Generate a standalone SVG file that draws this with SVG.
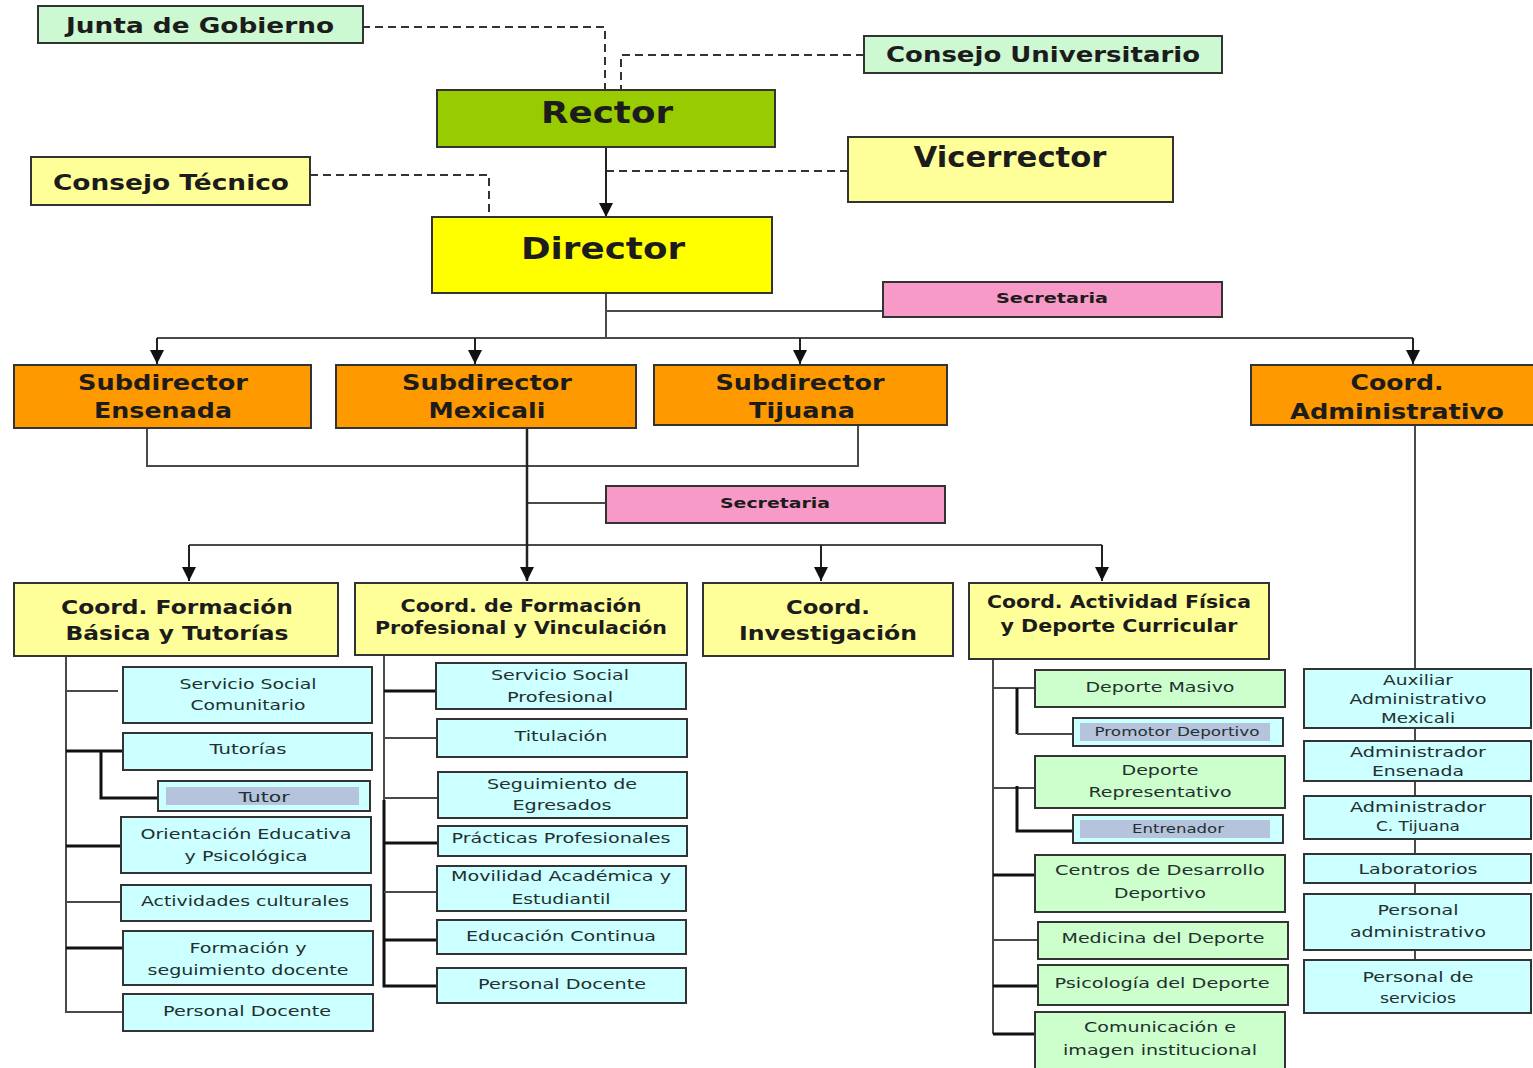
<svg xmlns="http://www.w3.org/2000/svg" width="1533" height="1068" viewBox="0 0 1533 1068">
<style>
text{font-family:"DejaVu Sans","Verdana",sans-serif;text-anchor:middle;fill:#1c1c1c}
.b{font-weight:bold}
.h1{font-size:31px}
.h2{font-size:22px}
.h3{font-size:20px}
.h4{font-size:17px}
.sec{font-size:14px;font-weight:bold}
.s{font-size:14.5px;fill:#23302f}
.xs{font-size:13px;fill:#23302f}
rect{stroke:#333;stroke-width:2}
.bg{fill:#fff;stroke:none}
.mint{fill:#ccf8d2}
.green{fill:#99cc00}
.lyel{fill:#ffff99}
.yel{fill:#ffff00}
.pink{fill:#f79ac8}
.org{fill:#ff9900}
.cyan{fill:#ccffff}
.grn{fill:#ccffcc}
.inner{fill:#b6c3dc;stroke:none}
.ln{fill:none;stroke:#4a4a4a;stroke-width:2}
.lk{fill:none;stroke:#111;stroke-width:3}
.dash{fill:none;stroke:#333;stroke-width:2;stroke-dasharray:8 5}
.ar{fill:none;stroke:#222;stroke-width:2;marker-end:url(#arr)}
</style>
<defs>
<marker id="arr" markerUnits="userSpaceOnUse" markerWidth="14" markerHeight="14" viewBox="0 0 14 14" refX="14" refY="7" orient="auto">
<path d="M0,0 L14,7 L0,14 z" fill="#111"/>
</marker>
</defs>
<rect class="bg" x="0" y="0" width="1533" height="1068"/>

<g id="connectors">
<path class="dash" d="M362,27 H605 V90"/>
<path class="dash" d="M864,55 H621 V90"/>
<path class="dash" d="M848,171 H607"/>
<path class="dash" d="M310,175 H489 V217"/>
<path class="ar" d="M606,147 V217"/>
<path class="ln" d="M606,293 V338"/>
<path class="ln" d="M606,311 H883"/>
<path class="ln" d="M157,338 H1413"/>
<path class="ar" d="M157,338 V364"/>
<path class="ar" d="M475,338 V364"/>
<path class="ar" d="M800,338 V364"/>
<path class="ar" d="M1413,338 V364"/>
<path class="ln" d="M147,428 V466 H858 V425"/>
<path class="ln" d="M527,503 H606"/>
<path class="ln" d="M189,545 H1102"/>
<path class="ar" d="M527,428 V581" style="stroke-width:2.5"/>
<path class="ar" d="M189,545 V581"/>
<path class="ar" d="M821,545 V581"/>
<path class="ar" d="M1102,545 V581"/>
<path class="ln" d="M1415,425 V1000"/>
<!-- left column -->
<path class="ln" d="M66,656 V1012 H123"/>
<path class="ln" d="M66,691 H118"/>
<path class="lk" d="M66,751 H123"/>
<path class="lk" d="M101,751 V798 H158"/>
<path class="lk" d="M66,846 H121"/>
<path class="ln" d="M66,902 H121"/>
<path class="lk" d="M66,948 H123"/>
<!-- middle column -->
<path class="ln" d="M384,655 V800"/>
<path class="lk" d="M384,800 V986 H437"/>
<path class="lk" d="M384,691 H436"/>
<path class="ln" d="M384,738 H437"/>
<path class="ln" d="M384,798 H438"/>
<path class="lk" d="M384,843 H438"/>
<path class="ln" d="M384,892 H437"/>
<path class="lk" d="M384,940 H437"/>
<!-- right column -->
<path class="ln" d="M993,659 V1034"/>
<path class="lk" d="M993,1034 H1035"/>
<path class="ln" d="M993,688 H1035"/>
<path class="lk" d="M1017,688 V734"/>
<path class="ln" d="M1017,734 H1073"/>
<path class="ln" d="M993,788 H1035"/>
<path class="lk" d="M1017,786 V831 H1073"/>
<path class="lk" d="M993,875 H1035"/>
<path class="ln" d="M993,940 H1038"/>
<path class="lk" d="M993,986 H1038"/>
</g>

<g id="junta"><rect class="mint" x="38" y="6" width="325" height="37"/><text class="b h2" x="200" y="33" textLength="268" lengthAdjust="spacingAndGlyphs">Junta de Gobierno</text></g>
<g id="consejo-universitario"><rect class="mint" x="864" y="36" width="358" height="37"/><text class="b h2" x="1043" y="62" textLength="314" lengthAdjust="spacingAndGlyphs">Consejo Universitario</text></g>
<g id="rector"><rect class="green" x="437" y="90" width="338" height="57"/><text class="b h1" x="607" y="123" textLength="132" lengthAdjust="spacingAndGlyphs">Rector</text></g>
<g id="vicerrector"><rect class="lyel" x="848" y="137" width="325" height="65"/><text class="b" style="font-size:29px" x="1010" y="167" textLength="193" lengthAdjust="spacingAndGlyphs">Vicerrector</text></g>
<g id="consejo-tecnico"><rect class="lyel" x="31" y="157" width="279" height="48"/><text class="b h2" x="171" y="190" textLength="236" lengthAdjust="spacingAndGlyphs">Consejo Técnico</text></g>
<g id="director"><rect class="yel" x="432" y="217" width="340" height="76"/><text class="b h1" x="603" y="259" textLength="164" lengthAdjust="spacingAndGlyphs">Director</text></g>
<g id="secretaria-1"><rect class="pink" x="883" y="282" width="339" height="35"/><text class="sec" x="1052" y="303" textLength="112" lengthAdjust="spacingAndGlyphs">Secretaria</text></g>

<g id="sub-ensenada"><rect class="org" x="14" y="365" width="297" height="63"/><text class="b h2" x="163" y="390" textLength="170" lengthAdjust="spacingAndGlyphs">Subdirector</text><text class="b h2" x="163" y="418" textLength="138" lengthAdjust="spacingAndGlyphs">Ensenada</text></g>
<g id="sub-mexicali"><rect class="org" x="336" y="365" width="300" height="63"/><text class="b h2" x="487" y="390" textLength="170" lengthAdjust="spacingAndGlyphs">Subdirector</text><text class="b h2" x="487" y="418" textLength="117" lengthAdjust="spacingAndGlyphs">Mexicali</text></g>
<g id="sub-tijuana"><rect class="org" x="654" y="365" width="293" height="60"/><text class="b h2" x="800" y="390" textLength="169" lengthAdjust="spacingAndGlyphs">Subdirector</text><text class="b h2" x="802" y="418" textLength="106" lengthAdjust="spacingAndGlyphs">Tijuana</text></g>
<g id="coord-adm"><rect class="org" x="1251" y="365" width="290" height="60"/><text class="b h2" x="1397" y="390" textLength="93" lengthAdjust="spacingAndGlyphs">Coord.</text><text class="b h2" x="1397" y="419" textLength="214" lengthAdjust="spacingAndGlyphs">Administrativo</text></g>
<g id="secretaria-2"><rect class="pink" x="606" y="486" width="339" height="37"/><text class="sec" x="775" y="508" textLength="110" lengthAdjust="spacingAndGlyphs">Secretaria</text></g>

<g id="coord-basica"><rect class="lyel" x="14" y="583" width="324" height="73"/><text class="b h3" x="177" y="614" textLength="232" lengthAdjust="spacingAndGlyphs">Coord. Formación</text><text class="b h3" x="177" y="640" textLength="223" lengthAdjust="spacingAndGlyphs">Básica y Tutorías</text></g>
<g id="coord-profesional"><rect class="lyel" x="355" y="583" width="332" height="72"/><text class="b h4" x="521" y="612" textLength="241" lengthAdjust="spacingAndGlyphs">Coord. de Formación</text><text class="b h4" x="521" y="634" textLength="292" lengthAdjust="spacingAndGlyphs">Profesional y Vinculación</text></g>
<g id="coord-investigacion"><rect class="lyel" x="703" y="583" width="250" height="73"/><text class="b h3" x="828" y="614" textLength="84" lengthAdjust="spacingAndGlyphs">Coord.</text><text class="b h3" x="828" y="640" textLength="178" lengthAdjust="spacingAndGlyphs">Investigación</text></g>
<g id="coord-actividad"><rect class="lyel" x="969" y="583" width="300" height="76"/><text class="b h4" x="1119" y="608" textLength="264" lengthAdjust="spacingAndGlyphs">Coord. Actividad Física</text><text class="b h4" x="1119" y="632" textLength="237" lengthAdjust="spacingAndGlyphs">y Deporte Curricular</text></g>

<!-- left column -->
<g id="servicio-social-comunitario"><rect class="cyan" x="123" y="667" width="249" height="56"/><text class="s" x="248" y="689" textLength="137" lengthAdjust="spacingAndGlyphs">Servicio Social</text><text class="s" x="248" y="710" textLength="115" lengthAdjust="spacingAndGlyphs">Comunitario</text></g>
<g id="tutorias"><rect class="cyan" x="123" y="733" width="249" height="37"/><text class="s" x="248" y="754" textLength="77" lengthAdjust="spacingAndGlyphs">Tutorías</text></g>
<g id="tutor"><rect class="cyan" x="158" y="781" width="212" height="30"/><rect class="inner" x="166" y="787" width="193" height="18"/><text class="s" x="264" y="802" textLength="51" lengthAdjust="spacingAndGlyphs">Tutor</text></g>
<g id="orientacion"><rect class="cyan" x="121" y="817" width="250" height="56"/><text class="s" x="246" y="839" textLength="211" lengthAdjust="spacingAndGlyphs">Orientación Educativa</text><text class="s" x="246" y="861" textLength="123" lengthAdjust="spacingAndGlyphs">y Psicológica</text></g>
<g id="actividades-culturales"><rect class="cyan" x="121" y="885" width="250" height="36"/><text class="s" x="245" y="906" textLength="208" lengthAdjust="spacingAndGlyphs">Actividades culturales</text></g>
<g id="formacion-seguimiento"><rect class="cyan" x="123" y="931" width="250" height="54"/><text class="s" x="248" y="953" textLength="117" lengthAdjust="spacingAndGlyphs">Formación y</text><text class="s" x="248" y="975" textLength="201" lengthAdjust="spacingAndGlyphs">seguimiento docente</text></g>
<g id="personal-docente-1"><rect class="cyan" x="123" y="994" width="250" height="37"/><text class="s" x="247" y="1016" textLength="168" lengthAdjust="spacingAndGlyphs">Personal Docente</text></g>

<!-- middle column -->
<g id="servicio-social-profesional"><rect class="cyan" x="436" y="663" width="250" height="46"/><text class="s" x="560" y="680" textLength="138" lengthAdjust="spacingAndGlyphs">Servicio Social</text><text class="s" x="560" y="702" textLength="106" lengthAdjust="spacingAndGlyphs">Profesional</text></g>
<g id="titulacion"><rect class="cyan" x="437" y="719" width="250" height="38"/><text class="s" x="561" y="741" textLength="93" lengthAdjust="spacingAndGlyphs">Titulación</text></g>
<g id="seguimiento-egresados"><rect class="cyan" x="438" y="772" width="249" height="46"/><text class="s" x="562" y="789" textLength="150" lengthAdjust="spacingAndGlyphs">Seguimiento de</text><text class="s" x="562" y="810" textLength="99" lengthAdjust="spacingAndGlyphs">Egresados</text></g>
<g id="practicas"><rect class="cyan" x="438" y="826" width="249" height="30"/><text class="s" x="561" y="843" textLength="219" lengthAdjust="spacingAndGlyphs">Prácticas Profesionales</text></g>
<g id="movilidad"><rect class="cyan" x="437" y="866" width="249" height="45"/><text class="s" x="561" y="881" textLength="220" lengthAdjust="spacingAndGlyphs">Movilidad Académica y</text><text class="s" x="561" y="904" textLength="99" lengthAdjust="spacingAndGlyphs">Estudiantil</text></g>
<g id="educacion-continua"><rect class="cyan" x="437" y="920" width="249" height="34"/><text class="s" x="561" y="941" textLength="190" lengthAdjust="spacingAndGlyphs">Educación Continua</text></g>
<g id="personal-docente-2"><rect class="cyan" x="437" y="968" width="249" height="35"/><text class="s" x="562" y="989" textLength="168" lengthAdjust="spacingAndGlyphs">Personal Docente</text></g>

<!-- right column -->
<g id="deporte-masivo"><rect class="grn" x="1035" y="670" width="250" height="37"/><text class="s" x="1160" y="692" textLength="149" lengthAdjust="spacingAndGlyphs">Deporte Masivo</text></g>
<g id="promotor"><rect class="cyan" x="1073" y="718" width="210" height="28"/><rect class="inner" x="1080" y="723" width="190" height="18"/><text class="xs" x="1177" y="736" textLength="165" lengthAdjust="spacingAndGlyphs">Promotor Deportivo</text></g>
<g id="deporte-representativo"><rect class="grn" x="1035" y="756" width="250" height="52"/><text class="s" x="1160" y="775" textLength="77" lengthAdjust="spacingAndGlyphs">Deporte</text><text class="s" x="1160" y="797" textLength="143" lengthAdjust="spacingAndGlyphs">Representativo</text></g>
<g id="entrenador"><rect class="cyan" x="1073" y="815" width="210" height="28"/><rect class="inner" x="1080" y="820" width="190" height="18"/><text class="xs" x="1178" y="833" textLength="92" lengthAdjust="spacingAndGlyphs">Entrenador</text></g>
<g id="centros"><rect class="grn" x="1035" y="855" width="250" height="57"/><text class="s" x="1160" y="875" textLength="210" lengthAdjust="spacingAndGlyphs">Centros de Desarrollo</text><text class="s" x="1160" y="898" textLength="92" lengthAdjust="spacingAndGlyphs">Deportivo</text></g>
<g id="medicina"><rect class="grn" x="1038" y="922" width="250" height="37"/><text class="s" x="1163" y="943" textLength="203" lengthAdjust="spacingAndGlyphs">Medicina del Deporte</text></g>
<g id="psicologia"><rect class="grn" x="1038" y="965" width="250" height="40"/><text class="s" x="1162" y="988" textLength="215" lengthAdjust="spacingAndGlyphs">Psicología del Deporte</text></g>
<g id="comunicacion"><rect class="grn" x="1035" y="1012" width="250" height="60"/><text class="s" x="1160" y="1032" textLength="152" lengthAdjust="spacingAndGlyphs">Comunicación e</text><text class="s" x="1160" y="1055" textLength="194" lengthAdjust="spacingAndGlyphs">imagen institucional</text></g>

<!-- far right column -->
<g id="auxiliar-mexicali"><rect class="cyan" x="1304" y="669" width="227" height="59"/><text class="s" x="1418" y="685" textLength="70" lengthAdjust="spacingAndGlyphs">Auxiliar</text><text class="s" x="1418" y="704" textLength="137" lengthAdjust="spacingAndGlyphs">Administrativo</text><text class="s" x="1418" y="723" textLength="74" lengthAdjust="spacingAndGlyphs">Mexicali</text></g>
<g id="admin-ensenada"><rect class="cyan" x="1304" y="741" width="227" height="40"/><text class="s" x="1418" y="757" textLength="136" lengthAdjust="spacingAndGlyphs">Administrador</text><text class="s" x="1418" y="776" textLength="92" lengthAdjust="spacingAndGlyphs">Ensenada</text></g>
<g id="admin-tijuana"><rect class="cyan" x="1304" y="796" width="227" height="43"/><text class="s" x="1418" y="812" textLength="136" lengthAdjust="spacingAndGlyphs">Administrador</text><text class="s" x="1418" y="831" textLength="84" lengthAdjust="spacingAndGlyphs">C. Tijuana</text></g>
<g id="laboratorios"><rect class="cyan" x="1304" y="854" width="227" height="29"/><text class="s" x="1418" y="874" textLength="119" lengthAdjust="spacingAndGlyphs">Laboratorios</text></g>
<g id="personal-administrativo"><rect class="cyan" x="1304" y="894" width="227" height="56"/><text class="s" x="1418" y="915" textLength="81" lengthAdjust="spacingAndGlyphs">Personal</text><text class="s" x="1418" y="937" textLength="136" lengthAdjust="spacingAndGlyphs">administrativo</text></g>
<g id="personal-servicios"><rect class="cyan" x="1304" y="960" width="227" height="53"/><text class="s" x="1418" y="982" textLength="111" lengthAdjust="spacingAndGlyphs">Personal de</text><text class="s" x="1418" y="1003" textLength="76" lengthAdjust="spacingAndGlyphs">servicios</text></g>
</svg>
